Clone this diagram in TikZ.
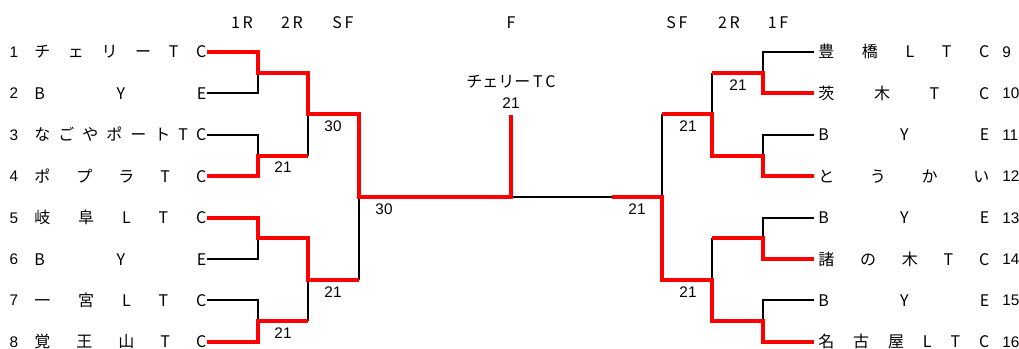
\documentclass[tikz,border=0pt]{standalone}
\usepackage{fontspec}
\setmainfont{Liberation Sans}
\newfontfamily\jpfont{Noto Sans CJK JP}
\usetikzlibrary{positioning}

\begin{document}
\begin{tikzpicture}[
    x=0.75pt, y=-0.75pt,
    win/.style={draw=red, line width=3pt},
    lose/.style={draw=black, line width=1.5pt},
    num/.style={inner sep=0pt, anchor=base, font=\fontsize{11.5}{11.5}\selectfont},
    score/.style={inner sep=0pt, font=\fontsize{11.5}{11.5}\selectfont},
    team/.style={inner sep=0pt, anchor=base west, font=\jpfont\fontsize{12}{12}\selectfont},
    head/.style={inner sep=0pt, font=\jpfont\fontsize{12}{12}\selectfont}
]
\useasboundingbox (0,0) rectangle (1019,349);

% left teams
\foreach \i/\nm in {1/{チ\hfill ェ\hfill リ\hfill ー\hfill T\hfill C}, 2/{B\hfill Y\hfill E},
    3/{な\hfill ご\hfill や\hfill ポ\hfill ー\hfill ト\hfill T\hfill C}, 4/{ポ\hfill プ\hfill ラ\hfill T\hfill C},
    5/{岐\hfill 阜\hfill L\hfill T\hfill C}, 6/{B\hfill Y\hfill E},
    7/{一\hfill 宮\hfill L\hfill T\hfill C}, 8/{覚\hfill 王\hfill 山\hfill T\hfill C}} {
  \pgfmathsetmacro\y{52+(\i-1)*41.4}
  \node[num] (n\i) at (14,\y+5.5) {\i};
  \node[team] (t\i) at (34,\y+6) {\makebox[129pt][s]{\nm}};
  \coordinate (L\i) at (207,\y);
}
% right teams
\foreach \i/\nm in {9/{豊\hfill 橋\hfill L\hfill T\hfill C}, 10/{茨\hfill 木\hfill T\hfill C},
    11/{B\hfill Y\hfill E}, 12/{と\hfill う\hfill か\hfill い},
    13/{B\hfill Y\hfill E}, 14/{諸\hfill の\hfill 木\hfill T\hfill C},
    15/{B\hfill Y\hfill E}, 16/{名\hfill 古\hfill 屋\hfill L\hfill T\hfill C}} {
  \pgfmathsetmacro\y{52+(\i-9)*41.4}
  \node[num, anchor=base west] (n\i) at (1002,\y+5.5) {\i};
  \node[team] (t\i) at (818,\y+6) {\makebox[128.25pt][s]{\nm}};
  \coordinate (R\i) at (814,\y);
}

% junctions
\coordinate (la1) at (258,72.7);  \coordinate (la2) at (258,155.5);
\coordinate (la3) at (258,238.3); \coordinate (la4) at (258,321.1);
\coordinate (lb1) at (308,114.1); \coordinate (lb2) at (308,279.7);
\coordinate (lc) at (359,196.9);
\coordinate (ra1) at (763,72.7);  \coordinate (ra2) at (763,155.5);
\coordinate (ra3) at (763,238.3); \coordinate (ra4) at (763,321.1);
\coordinate (rb1) at (712,114.1); \coordinate (rb2) at (712,279.7);
\coordinate (rc) at (662,196.9);  \coordinate (rh) at (612,196.9);
\coordinate (fm) at (511,196.9);  \coordinate (ft) at (511,115);

% headers
\node[head] (h1) at (242,23) {1\,R};
\node[head] (h2) at (292,23) {2\,R};
\node[head] (h3) at (343,23) {S\,F};
\node[head] (hf) at (511,23) {F};
\node[head] (h4) at (677,23) {S\,F};
\node[head] (h5) at (729,23) {2\,R};
\node[head] (h6) at (778,23) {1\,F};
\node[head] (champ) at (511,82) {チェリー\,T\,C};
\node[score] (sf) at (511,103) {21};

% losing lines
\foreach \i/\j in {2/1,3/2,6/3,7/4} \draw[lose] (L\i) -| (la\j);
\foreach \i/\j in {9/1,11/2,13/3,15/4} \draw[lose] (R\i) -| (ra\j);
\draw[lose] (la2 -| lb1) -- (lb1);
\draw[lose] (la4 -| lb2) -- (lb2);
\draw[lose] (lb2 -| lc) -- (lc);
\draw[lose] (ra1 -| rb1) -- (rb1);
\draw[lose] (ra3 -| rb2) -- (rb2);
\draw[lose] (rb1 -| rc) -- (rc);
\draw[lose] (rh) -- (fm);

% winning lines
\draw[win] (L1) -| (la1) -| (lb1) -| (lc) -| (ft);
\draw[win] (L4) -| (la2) -- (la2 -| lb1);
\draw[win] (L5) -| (la3) -| (lb2) -- (lb2 -| lc);
\draw[win] (L8) -| (la4) -- (la4 -| lb2);
\draw[win] (R10) -| (ra1) -- (ra1 -| rb1);
\draw[win] (R12) -| (ra2) -| (rb1) -- (rb1 -| rc);
\draw[win] (R14) -| (ra3) -- (ra3 -| rb2);
\draw[win] (R16) -| (ra4) -| (rb2) -| (rc) -- (rh);

% scores
\node[score] (s1) at (283,167.5) {21};
\node[score] (s2) at (283,333) {21};
\node[score] (s3) at (333,126) {30};
\node[score] (s4) at (333,292) {21};
\node[score] (s5) at (384,209) {30};
\node[score] (s6) at (738,84.7) {21};
\node[score] (s7) at (688,126) {21};
\node[score] (s8) at (688,292) {21};
\node[score] (s9) at (637,209) {21};
\end{tikzpicture}
\end{document}
